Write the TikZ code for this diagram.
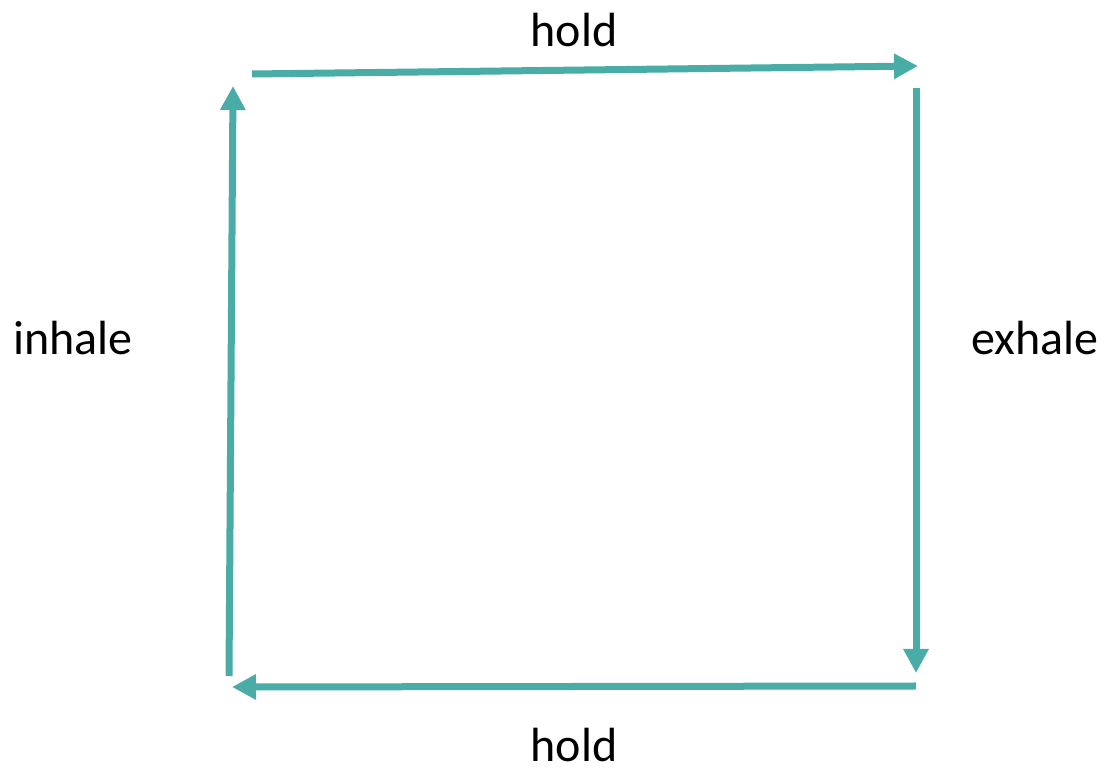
\documentclass[tikz,border=0pt]{standalone}
\usepackage{fontspec}
\setmainfont{Carlito}
\usetikzlibrary{arrows.meta,positioning}
\definecolor{breath}{RGB}{74,172,166}
\tikzset{
  >=Stealth,
  phase/.style={-{Triangle[length=12pt,width=12pt]}, line width=3.5pt, draw=breath},
  lbl/.style={font=\fontsize{24}{28}\selectfont, inner sep=0pt}
}
\begin{document}
\begin{tikzpicture}[x=0.5pt, y=-0.5pt]
    \useasboundingbox (0,0) rectangle (1104,774);

    % corners of the box
    \coordinate (tl1) at (252,74);
    \coordinate (tr1) at (918,66);
    \coordinate (tr2) at (916,88);
    \coordinate (br1) at (916,673);
    \coordinate (br2) at (916,686);
    \coordinate (bl1) at (232,687);
    \coordinate (bl2) at (229,676);
    \coordinate (tl2) at (233,86);

    \node[lbl] (holdtop) at (574,30) {hold};
    \node[lbl] (exhale) at (1035,338) {exhale};
    \node[lbl] (holdbot) at (574,745) {hold};
    \node[lbl] (inhale) at (73,338) {inhale};

    \draw[phase] (tl1) -- (tr1);
    \draw[phase] (tr2) -- (br1);
    \draw[phase] (br2) -- (bl1);
    \draw[phase] (bl2) -- (tl2);
\end{tikzpicture}
\end{document}
